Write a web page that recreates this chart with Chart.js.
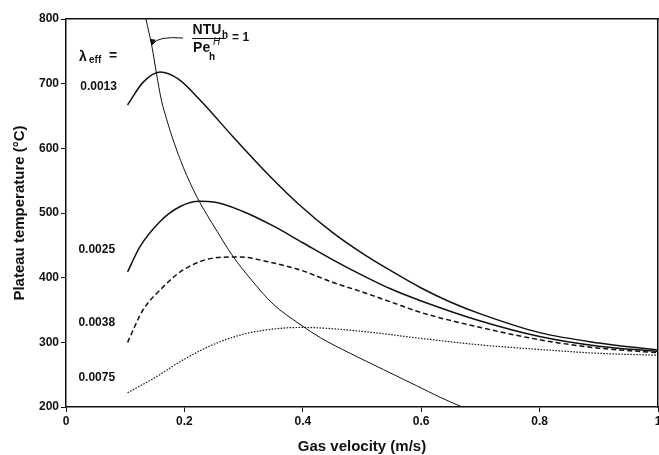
<!DOCTYPE html>
<html>
<head>
<meta charset="utf-8">
<script src="https://cdn.jsdelivr.net/npm/chart.js@4/dist/chart.umd.min.js"></script>
<style>
  html, body { margin: 0; padding: 0; background: #fff; }
  #wrap { width: 659px; height: 455px; }
</style>
</head>
<body>
<div id="wrap"><canvas id="plateauChart"></canvas></div>
<script>
// Plateau temperature vs gas velocity for several effective conductivities
const lambdaLabels = ['0.0013', '0.0025', '0.0038', '0.0075'];

const vel0013 = [0.104, 0.13, 0.159, 0.19, 0.226, 0.282, 0.339, 0.395, 0.45, 0.5, 0.55, 0.6, 0.65, 0.7, 0.8, 0.9, 1.0];
const temp0013 = [667, 702, 718, 707, 675, 618, 562, 512, 470, 438, 410, 384, 362, 344, 315, 299, 288];

const vel0025 = [0.104, 0.125, 0.159, 0.193, 0.226, 0.25, 0.3, 0.35, 0.4, 0.45, 0.5, 0.55, 0.6, 0.7, 0.8, 0.9, 1.0];
const temp0025 = [409, 448, 487, 510, 518, 517, 502, 480, 454, 428, 404, 382, 364, 333, 309, 294, 286];

const vel0038 = [0.104, 0.13, 0.159, 0.198, 0.255, 0.294, 0.339, 0.395, 0.45, 0.5, 0.55, 0.6, 0.7, 0.8, 0.9, 1.0];
const temp0038 = [300, 350, 381, 412, 431, 432, 425, 412, 393, 378, 362, 346, 323, 304, 291, 284];

const vel0075 = [0.104, 0.153, 0.198, 0.255, 0.311, 0.367, 0.4, 0.5, 0.6, 0.7, 0.8, 0.9, 1.0];
const temp0075 = [222, 247, 273, 299, 315, 322, 323, 317, 306, 296, 289, 283, 280];

// NTU_h / Pe_h^H = 1 boundary
const velNtu = [0.135, 0.145, 0.153, 0.161, 0.17, 0.181, 0.198, 0.221, 0.255, 0.282, 0.311, 0.35, 0.395, 0.43, 0.48, 0.536, 0.592, 0.632, 0.669];
const tempNtu = [800, 758, 715, 675, 645, 613, 571, 525, 472, 433, 399, 359, 328, 307, 283, 258, 233, 215, 200];

const xTicks = [0, 0.2, 0.4, 0.6, 0.8, 1];
const yTicks = [200, 300, 400, 500, 600, 700, 800];

const pts = (xs, ys) => xs.map((x, i) => ({ x: x, y: ys[i] }));

const curveStyle = {
  borderColor: '#111',
  borderWidth: 1.5,
  pointRadius: 0,
  fill: false,
  cubicInterpolationMode: 'monotone'
};

const datasets = [
  Object.assign({ label: lambdaLabels[0], data: pts(vel0013, temp0013) }, curveStyle),
  Object.assign({ label: lambdaLabels[1], data: pts(vel0025, temp0025) }, curveStyle),
  Object.assign({ label: lambdaLabels[2], data: pts(vel0038, temp0038) }, curveStyle, { borderDash: [5, 3] }),
  Object.assign({ label: lambdaLabels[3], data: pts(vel0075, temp0075) }, curveStyle, { borderDash: [1.5, 1.5], borderWidth: 1.2 }),
  Object.assign({ label: 'NTU', data: pts(velNtu, tempNtu) }, curveStyle, { borderWidth: 1 })
];

// where the curve labels sit (data units)
const curveLabelPos = [
  { x: 0.024, y: 695 },
  { x: 0.021, y: 443 },
  { x: 0.021, y: 330 },
  { x: 0.021, y: 246 }
];

const FONT = '"Liberation Sans", Arial, sans-serif';

const annotations = {
  id: 'annotations',
  afterDraw(chart) {
    const c = chart.ctx;
    const xs = chart.scales.x, ys = chart.scales.y;
    c.save();
    c.fillStyle = '#111';
    c.strokeStyle = '#111';
    c.textBaseline = 'middle';
    c.textAlign = 'left';

    // curve labels
    c.font = 'bold 12px ' + FONT;
    lambdaLabels.forEach((t, i) => {
      c.fillText(t, xs.getPixelForValue(curveLabelPos[i].x), ys.getPixelForValue(curveLabelPos[i].y));
    });

    // lambda_eff =
    const lx = xs.getPixelForValue(0.022), ly = ys.getPixelForValue(741);
    c.font = 'bold 14px ' + FONT;
    c.fillText('λ', lx, ly);
    c.font = 'bold 10px ' + FONT;
    c.fillText('eff', lx + 10, ly + 3);
    c.font = 'bold 14px ' + FONT;
    c.fillText('=', lx + 30, ly - 1);

    // NTU_h / Pe_h^H = 1
    const fx = xs.getPixelForValue(0.213), fy = ys.getPixelForValue(770.6);
    c.font = 'bold 14px ' + FONT;
    c.fillText('NTU', fx + 0.5, fy - 8);
    c.font = 'bold 10px ' + FONT;
    c.fillText('h', fx + 30, fy - 3);
    c.lineWidth = 1;
    c.beginPath();
    c.moveTo(fx, fy + 0.5);
    c.lineTo(fx + 34, fy + 0.5);
    c.stroke();
    c.font = 'bold 14px ' + FONT;
    c.fillText('Pe', fx + 1, fy + 10);
    c.font = 'italic 10px ' + FONT;
    c.fillText('H', fx + 21, fy + 4);
    c.font = 'bold 10px ' + FONT;
    c.fillText('h', fx + 17, fy + 19);
    c.font = 'bold 12px ' + FONT;
    c.fillText('= 1', fx + 40, fy);

    // curved arrow to the boundary line
    const tx = xs.getPixelForValue(0.145), ty = ys.getPixelForValue(760);
    c.beginPath();
    c.moveTo(fx - 9, fy);
    c.quadraticCurveTo(tx + 6, fy - 2, tx + 1, ty - 1);
    c.stroke();
    c.beginPath();
    c.moveTo(tx, ty + 1);
    c.lineTo(tx - 2, ty - 6);
    c.lineTo(tx + 4, ty - 5);
    c.closePath();
    c.fill();
    c.restore();
  }
};

const fmtTick = v => (v === 0 || v === 1) ? String(v) : v.toFixed(1);

new Chart(document.getElementById('plateauChart'), {
  type: 'line',
  data: { datasets: datasets },
  plugins: [annotations],
  options: {
    responsive: true,
    maintainAspectRatio: false,
    animation: false,
    layout: { padding: { top: 19, right: 1, left: 0, bottom: 0 } },
    plugins: { legend: { display: false }, tooltip: { enabled: false } },
    scales: {
      x: {
        type: 'linear',
        min: 0,
        max: 1,
        afterBuildTicks: s => { s.ticks = xTicks.map(v => ({ value: v })); },
        afterFit: s => { s.height = 48; s.paddingLeft = 0; s.paddingRight = 0; },
        ticks: {
          color: '#111',
          font: { family: FONT, size: 12, weight: 'bold' },
          padding: 2,
          maxRotation: 0,
          callback: v => fmtTick(v)
        },
        grid: { drawOnChartArea: false, tickLength: 5, color: '#111' },
        border: { color: '#111', width: 1.5 },
        title: {
          display: true,
          text: 'Gas velocity (m/s)',
          color: '#111',
          font: { family: FONT, size: 15, weight: 'bold', lineHeight: 1.1 },
          padding: { top: 0, bottom: 0 }
        }
      },
      y: {
        min: 200,
        max: 800,
        afterBuildTicks: s => { s.ticks = yTicks.map(v => ({ value: v })); },
        afterFit: s => { s.width = 66; s.paddingTop = 0; s.paddingBottom = 0; },
        ticks: {
          color: '#111',
          font: { family: FONT, size: 12, weight: 'bold' },
          padding: 2
        },
        grid: { drawOnChartArea: false, tickLength: 5, color: '#111' },
        border: { color: '#111', width: 1.5 },
        title: {
          display: true,
          text: 'Plateau temperature (°C)',
          color: '#111',
          font: { family: FONT, size: 15, weight: 'bold', lineHeight: 1.1 },
          padding: { top: 12, bottom: 0 }
        }
      },
      xTop: {
        type: 'linear',
        position: 'top',
        min: 0,
        max: 1,
        afterFit: s => { s.height = 0; },
        ticks: { display: false },
        grid: { display: false },
        border: { color: '#111', width: 1.5 }
      },
      yRight: {
        position: 'right',
        min: 200,
        max: 800,
        afterFit: s => { s.width = 0; },
        ticks: { display: false },
        grid: { display: false },
        border: { color: '#111', width: 1.5 }
      }
    }
  }
});
</script>
</body>
</html>
